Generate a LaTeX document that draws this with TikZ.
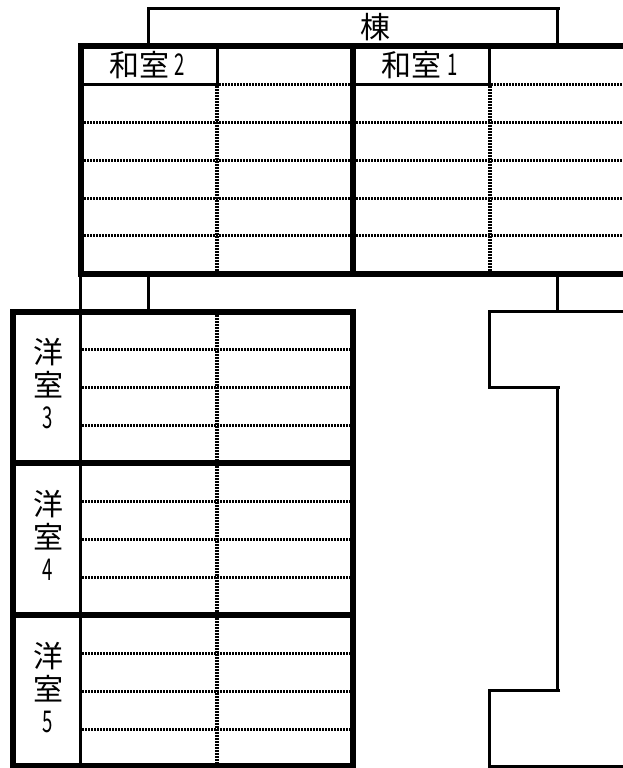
\documentclass[tikz,border=0pt]{standalone}
\usepackage{fontspec}
\newfontfamily\cjk{Noto Sans CJK JP}
\newfontfamily\cjknum[FakeStretch=0.62]{Noto Sans CJK JP}
\usepackage{tikz}

\tikzset{
    thick line/.style={line width=6pt},
    thin line/.style={line width=3pt},
    row line/.style={line width=3pt,dash pattern=on 1.5pt off 1.5pt},
    col line/.style={line width=4pt,dash pattern=on 1.5pt off 1.5pt},
    label/.style={inner sep=0pt,font=\fontsize{30pt}{30pt}\cjk},
    numlabel/.style={inner sep=0pt,font=\fontsize{30pt}{30pt}\cjknum}
}

\begin{document}
\begin{tikzpicture}[x=1pt,y=-1pt]
    \useasboundingbox (0,0) rectangle (623,768);

    % dotted rows and columns, upper block
    \foreach \y in {122,160,198,235}
        \draw[row line] (84,\y) -- (350,\y) (356,\y) -- (623,\y);
    \draw[row line] (219,84.5) -- (350,84.5) (491,84.5) -- (623,84.5);
    \draw[col line] (217,86) -- (217,271) (490,86) -- (490,271);

    % dotted rows and columns, lower block
    \foreach \y in {349.5,387.5,425.5,501,539,577,653,691,729}
        \draw[row line] (82,\y) -- (350,\y);
    \draw[col line] (217,315) -- (217,460) (217,466) -- (217,612) (217,618) -- (217,764);

    % building outline
    \draw[thin line] (148.5,46) -- (148.5,8.5) -- (560,8.5);
    \draw[thin line] (557.5,8.5) -- (557.5,46);
    \draw[thin line] (148.5,274) -- (148.5,312);
    \draw[thin line] (557.5,274) -- (557.5,311.5);
    \draw[thin line] (80.5,274) -- (80.5,766);

    % upper block
    \draw[thick line] (623,46) -- (81,46) -- (81,277);
    \draw[thick line] (78,274) -- (623,274);
    \draw[thick line] (353,46) -- (353,274);
    \draw[thin line] (84,84.5) -- (217.5,84.5) -- (217.5,46);
    \draw[thin line] (356,84.5) -- (489.5,84.5) -- (489.5,46);

    % lower block
    \draw[thick line] (13,309) -- (13,768);
    \draw[thick line] (353,309) -- (353,768);
    \foreach \y in {312,463,615,766}
        \draw[thick line] (10,\y) -- (356,\y);

    % right part
    \draw[thin line] (623,311.5) -- (489.5,311.5) -- (489.5,387.5) -- (560,387.5);
    \draw[thin line] (557.5,387.5) -- (557.5,690.5);
    \draw[thin line] (560,690.5) -- (489.5,690.5) -- (489.5,766.5) -- (623,766.5);

    % labels
    \node[label] (bldg) at (375,27.5) {棟};
    \node[label,anchor=east] (wa2) at (170,65) {和室};
    \node[numlabel,anchor=west] (wa2n) at (174,65) {2};
    \node[label,anchor=east] (wa1) at (442,65) {和室};
    \node[numlabel,anchor=west] (wa1n) at (447,65) {1};
    \foreach \n/\dy in {3/0,4/152,5/304} {
        \node[label] (yo\n) at (48,352+\dy) {洋};
        \node[label] (shitsu\n) at (48,385+\dy) {室};
        \node[numlabel] (num\n) at (48,417.5+\dy) {\n};
    }
\end{tikzpicture}
\end{document}
